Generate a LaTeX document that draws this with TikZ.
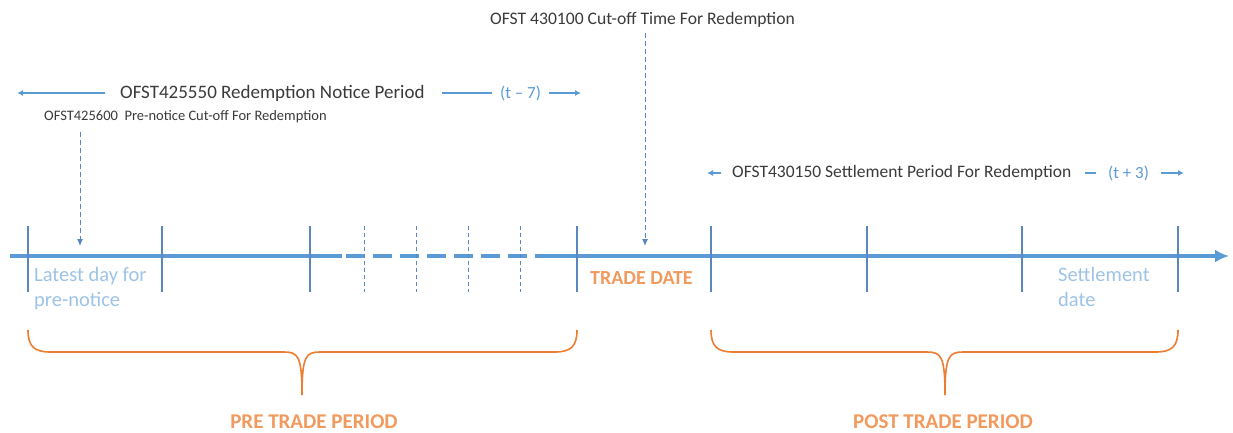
\documentclass[tikz,border=0pt]{standalone}
\usepackage{fontspec}
\setmainfont{Carlito}
\usetikzlibrary{arrows.meta}
\definecolor{lineblue}{HTML}{5B9BD5}
\definecolor{tickblue}{HTML}{5A87C2}
\definecolor{lightblue}{HTML}{9DC3E6}
\definecolor{obrace}{HTML}{ED7D31}
\definecolor{otext}{HTML}{F29A5E}
\definecolor{darktext}{HTML}{3A3A3A}
\tikzset{
  tick/.style={tickblue, line width=1.6pt},
  dtick/.style={tickblue, line width=0.9pt, dash pattern=on 4pt off 3pt},
  brace/.style={obrace, line width=1.6pt},
  lbl/.style={text=darktext, inner sep=0pt, anchor=west},
  bluelbl/.style={text=lineblue, inner sep=0pt, anchor=west},
  datelbl/.style={text=lightblue, inner sep=0pt, anchor=north west, align=left, font=\fontsize{20.5}{25}\selectfont},
  period/.style={text=otext, inner sep=0pt, font=\fontsize{21}{22}\selectfont\bfseries},
  dasharrow/.style={tickblue, line width=1pt, dash pattern=on 5pt off 3pt, -{Latex[length=7pt,width=6pt]}},
  smallarrow/.style={lineblue, line width=1.3pt, -{Latex[length=6pt,width=6pt]}},
}
\begin{document}
\begin{tikzpicture}[x=1pt,y=-1pt]
\useasboundingbox (0,0) rectangle (1233,433);
% timeline
\draw[lineblue, line width=3.6pt] (10,256) -- (342,256);
\draw[lineblue, line width=3.6pt, dash pattern=on 19pt off 8pt] (346,256) -- (545,256);
\draw[lineblue, line width=3.6pt, -{Latex[length=14pt,width=13pt]}] (545,256) -- (1229,256);
% ticks
\foreach \x/\n in {28/t1,162/t2,310/t3,577/t4,711/t5,867/t6,1022/t7,1178/t8}{
  \coordinate (\n) at (\x,256);
  \draw[tick] (\x,226) -- (\x,292);
}
\foreach \x in {364,416,468,520}{
  \draw[dtick] (\x,226) -- (\x,292);
}
% date labels
\node[datelbl] (latest) at (34,267) {Latest day for\\pre-notice};
\node[period, anchor=north west, font=\fontsize{20}{22}\selectfont\bfseries] (trade) at (590,271) {TRADE DATE};
\node[datelbl] (settle) at (1058,267) {Settlement\\date};
% top labels
\node[lbl, font=\fontsize{17.6}{20}\selectfont] (cutoff) at (490,20) {OFST 430100 Cut-off Time For Redemption};
\coordinate (cutoffend) at (645,246);
\draw[dasharrow] (645,33) -- (cutoffend);
\node[lbl, font=\fontsize{19}{22}\selectfont] (notice) at (120,93) {OFST425550 Redemption Notice Period};
\coordinate (nl) at (17,93);
\draw[smallarrow] (105,93) -- (nl);
\coordinate (nm) at (492,93);
\draw[lineblue, line width=1.3pt] (442,93) -- (nm);
\node[bluelbl, font=\fontsize{17}{20}\selectfont] (tm7) at (500,93) {(t – 7)};
\coordinate (nr) at (581,93);
\draw[smallarrow] (tm7.east) ++(8,0) -- (nr);
\node[lbl, font=\fontsize{14.5}{16}\selectfont] (prenote) at (44,117) {OFST425600\ \ Pre-notice Cut-off For Redemption};
\coordinate (preend) at (80,246);
\draw[dasharrow] (80,132) -- (preend);
\node[lbl, font=\fontsize{17.5}{20}\selectfont] (settlep) at (732,173) {OFST430150 Settlement Period For Redemption};
\coordinate (sl) at (707,173);
\draw[smallarrow] (721,173) -- (sl);
\draw[lineblue, line width=1.3pt] (1085,173) -- (1096,173);
\node[bluelbl, font=\fontsize{17}{20}\selectfont] (tp3) at (1108,173) {(t + 3)};
\coordinate (sr) at (1184,173);
\draw[smallarrow] (1161,173) -- (sr);
% braces
\draw[brace] (28,330) .. controls (28,346) and (34,352) .. (50,352) -- (284,352)
  .. controls (298,352) and (302,356) .. (302,395)
  .. controls (302,356) and (306,352) .. (320,352) -- (555,352)
  .. controls (571,352) and (577,346) .. (577,330);
\draw[brace] (711,330) .. controls (711,346) and (717,352) .. (733,352) -- (927,352)
  .. controls (941,352) and (945,356) .. (945,395)
  .. controls (945,356) and (949,352) .. (963,352) -- (1156,352)
  .. controls (1172,352) and (1178,346) .. (1178,330);
\node[period] (pre) at (314,422) {PRE TRADE PERIOD};
\node[period] (post) at (943,422) {POST TRADE PERIOD};
\end{tikzpicture}
\end{document}
